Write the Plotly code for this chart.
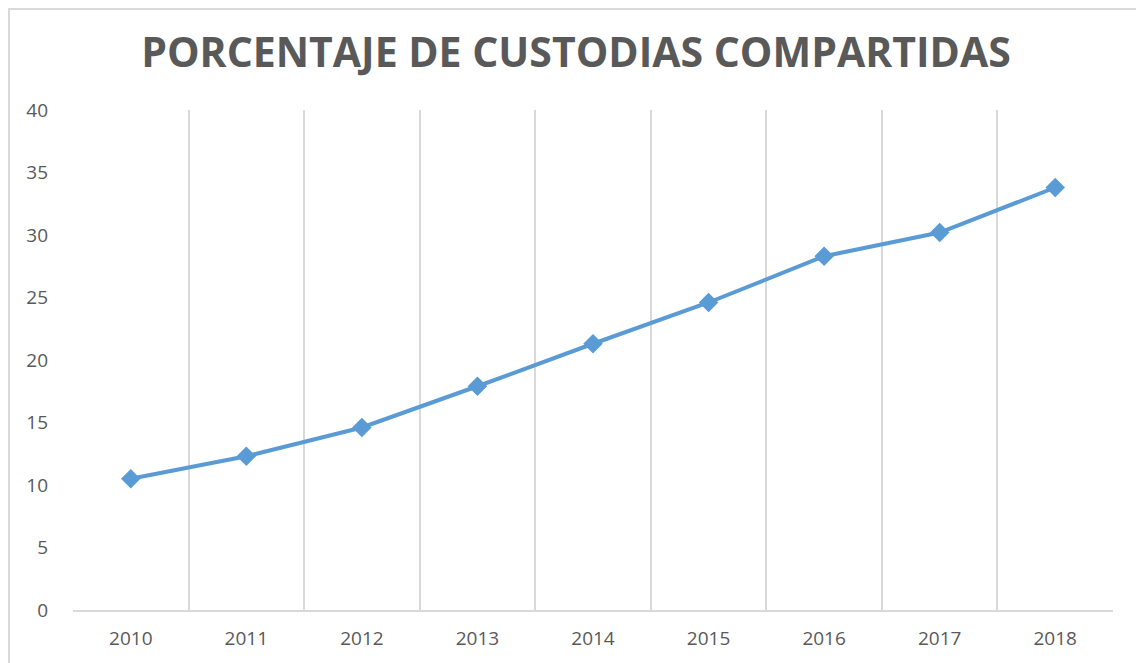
import plotly.graph_objects as go

years = ["2010", "2011", "2012", "2013", "2014", "2015", "2016", "2017", "2018"]
values = [10.5, 12.3, 14.6, 17.9, 21.3, 24.6, 28.3, 30.2, 33.8]
y_ticks = [0, 5, 10, 15, 20, 25, 30, 35, 40]
title_text = "PORCENTAJE DE CUSTODIAS COMPARTIDAS"

OFF = 8  # page body margin
W, H = 1144 - OFF, 663 - OFF
L, T = 73 - OFF, 110 - OFF
R = 1144 - 1113
B = 663 - 610
pw, ph = W - L - R, H - T - B

def px(x):
    return (x - OFF - L) / pw

def py(y):
    return (H - B - (y - OFF)) / ph

fig = go.Figure()
fig.add_trace(go.Scatter(
    x=years, y=values, mode="lines+markers",
    line=dict(color="#5B9BD5", width=4),
    marker=dict(symbol="diamond", size=15, color="#5B9BD5"),
    showlegend=False, hoverinfo="x+y",
))

fig.update_layout(
    width=W, height=H,
    margin=dict(l=L, r=R, t=T, b=B),
    paper_bgcolor="white", plot_bgcolor="white",
    title=dict(text="<b>" + title_text + "</b>", x=0.5, xanchor="center",
               y=1 - (53 - OFF) / H, yanchor="middle",
               font=dict(family="Open Sans", size=41, color="#595959")),
    font=dict(family="Open Sans", color="#595959"),
    xaxis=dict(type="category", range=[-0.5, 8.5], tickson="boundaries",
               showgrid=True, gridcolor="#D9D9D9", gridwidth=1.5,
               showline=True, linecolor="#D9D9D9", linewidth=1.5,
               ticks="", tickfont=dict(size=19, color="#595959"),
               ticklabelstandoff=10, zeroline=False),
    yaxis=dict(range=[0, 40], tickvals=y_ticks, showgrid=False,
               zeroline=False, showline=False, ticks="",
               tickfont=dict(size=19, color="#595959"), ticklabelstandoff=24),
)

fig.add_shape(type="rect", xref="paper", yref="paper",
              x0=px(9), x1=px(1141), y0=py(663 + 20), y1=py(OFF + 1),
              line=dict(color="#D9D9D9", width=2), fillcolor="rgba(0,0,0,0)",
              layer="below")

fig.write_html("out.html")
